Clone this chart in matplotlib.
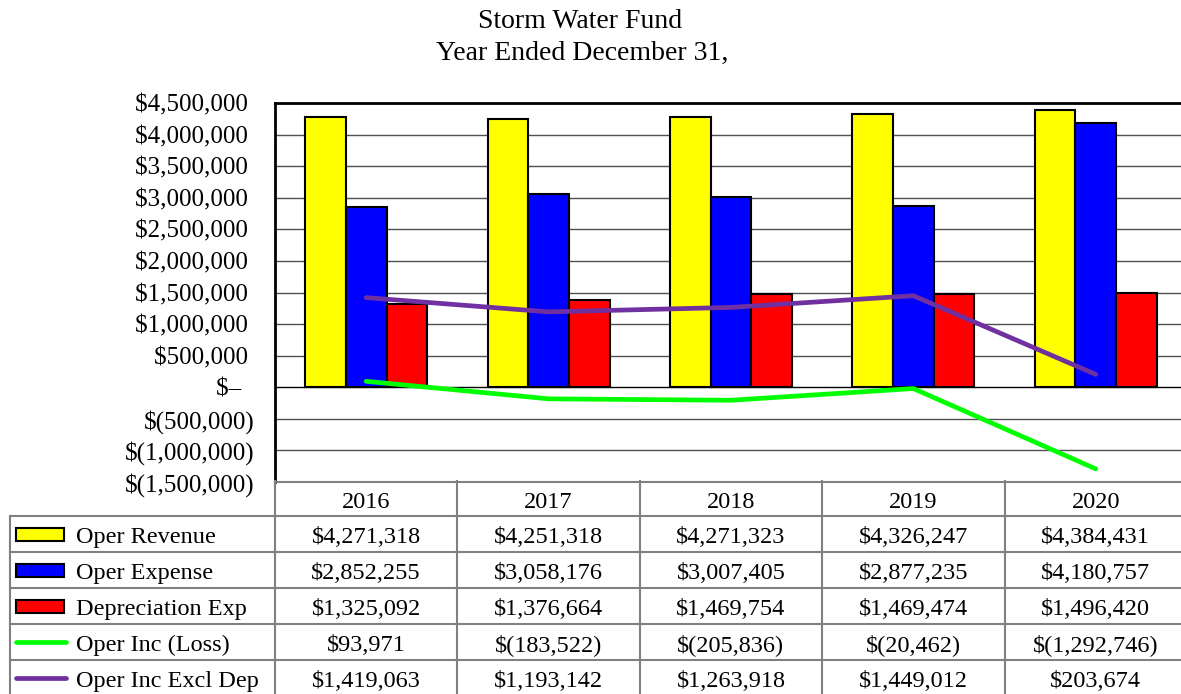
import matplotlib
matplotlib.use("Agg")
import matplotlib.pyplot as plt
import matplotlib.transforms as mtransforms
from matplotlib.patches import Rectangle
from matplotlib.lines import Line2D
import numpy as np

plt.rcParams["font.family"] = ["Liberation Serif", "DejaVu Serif"]

years = ["2016", "2017", "2018", "2019", "2020"]
oper_revenue = [4271318, 4251318, 4271323, 4326247, 4384431]
oper_expense = [2852255, 3058176, 3007405, 2877235, 4180757]
depreciation = [1325092, 1376664, 1469754, 1469474, 1496420]
oper_inc = [93971, -183522, -205836, -20462, -1292746]
oper_inc_excl_dep = [1419063, 1193142, 1263918, 1449012, 203674]

y_ticks = list(range(-1500000, 4500001, 500000))

W, H = 1181, 694
FS_TITLE = 20
FS_TICK = 18
FS_TABLE = 17.5


def money(v):
    if v == 0:
        return "$\u2013 "
    if v < 0:
        return "$({:,})".format(-v)
    return "${:,}".format(v)


def money_tick(v):
    if v == 0:
        return "$\u2013  "
    if v < 0:
        return "$({:,})".format(-v)
    return "${:,} ".format(v)


fig = plt.figure(figsize=(W / 100, H / 100), dpi=100)
ax = fig.add_axes([275 / W, 1 - 482 / H, (1187 - 275) / W, (482 - 103) / H])

x = np.arange(len(years))
w = 0.223
series = [
    (oper_revenue, "#FFFF00", "Oper Revenue"),
    (oper_expense, "#0000FF", "Oper Expense"),
    (depreciation, "#FF0000", "Depreciation Exp"),
]
for k, (vals, col, _) in enumerate(series):
    ax.bar(x + (k - 1) * w, vals, width=w, color=col, edgecolor="black",
           linewidth=1.5, zorder=3)

lines = [
    (oper_inc, "#00FF00", "Oper Inc (Loss)"),
    (oper_inc_excl_dep, "#7030A0", "Oper Inc Excl Dep"),
]
for vals, col, _ in lines:
    ax.plot(x, vals, color=col, linewidth=3.4, solid_capstyle="round", zorder=4)

ax.set_xlim(-0.5, len(years) - 0.5)
ax.set_ylim(-1500000, 4500000)
ax.set_yticks(y_ticks)
ax.set_yticklabels([money_tick(v) for v in y_ticks], fontsize=FS_TICK)
ax.tick_params(axis="y", length=0, pad=15)
ax.set_xticks([])
for v in y_ticks:
    ax.axhline(v, color="black" if v == 0 else "#505050", linewidth=1, zorder=1)
ax.spines["top"].set_linewidth(2)
ax.spines["left"].set_linewidth(2)
ax.spines["right"].set_visible(False)
ax.spines["bottom"].set_color("#808080")
ax.spines["bottom"].set_linewidth(1.5)


def fy(py):
    return 1 - py / H


def fx(px):
    return px / W


fig.text(fx(580), fy(28), "Storm Water Fund", ha="center", va="baseline", fontsize=FS_TITLE)
fig.text(fx(582), fy(60), "Year Ended December 31,", ha="center", va="baseline", fontsize=FS_TITLE)

# data table below the plot
blend = mtransforms.blended_transform_factory(ax.transData, fig.transFigure)
grid_c = "#808080"
row_top = [481, 516, 552, 588, 624, 660, 696]

# horizontal lines
for py in row_top[1:]:
    fig.add_artist(Line2D([fx(10), fx(1181)], [fy(py), fy(py)], color=grid_c, linewidth=1.5))
# vertical lines
fig.add_artist(Line2D([fx(10), fx(10)], [fy(516), fy(696)], color=grid_c, linewidth=1.5))
for b in np.arange(len(years)) - 0.5:
    fig.add_artist(Line2D([b, b], [fy(481), fy(696)], color=grid_c, linewidth=1.5,
                          transform=blend))

# header
for i, yr in enumerate(years):
    fig.text(i, fy(row_top[0] + 27), yr, transform=blend,
             ha="center", va="baseline", fontsize=FS_TABLE)

rows = [(s[0], s[1], s[2], "bar") for s in series] + [(l[0], l[1], l[2], "line") for l in lines]
for r, (vals, col, name, kind) in enumerate(rows):
    top = row_top[r + 1]
    yc = (row_top[r + 1] + row_top[r + 2]) / 2
    if kind == "bar":
        fig.add_artist(Rectangle((fx(16), fy(yc + 6.5)), (64 - 16) / W, 13 / H,
                                 facecolor=col, edgecolor="black", linewidth=1.5,
                                 transform=fig.transFigure))
    else:
        fig.add_artist(Line2D([fx(16), fx(66)], [fy(yc), fy(yc)], color=col,
                              linewidth=3.4, solid_capstyle="round"))
    fig.text(fx(76), fy(top + 27), name, ha="left", va="baseline", fontsize=FS_TABLE)
    for i, v in enumerate(vals):
        fig.text(i, fy(top + 27), money(v), transform=blend, ha="center", va="baseline",
                 fontsize=FS_TABLE)

fig.savefig("out.png", dpi=100)
plt.close(fig)
